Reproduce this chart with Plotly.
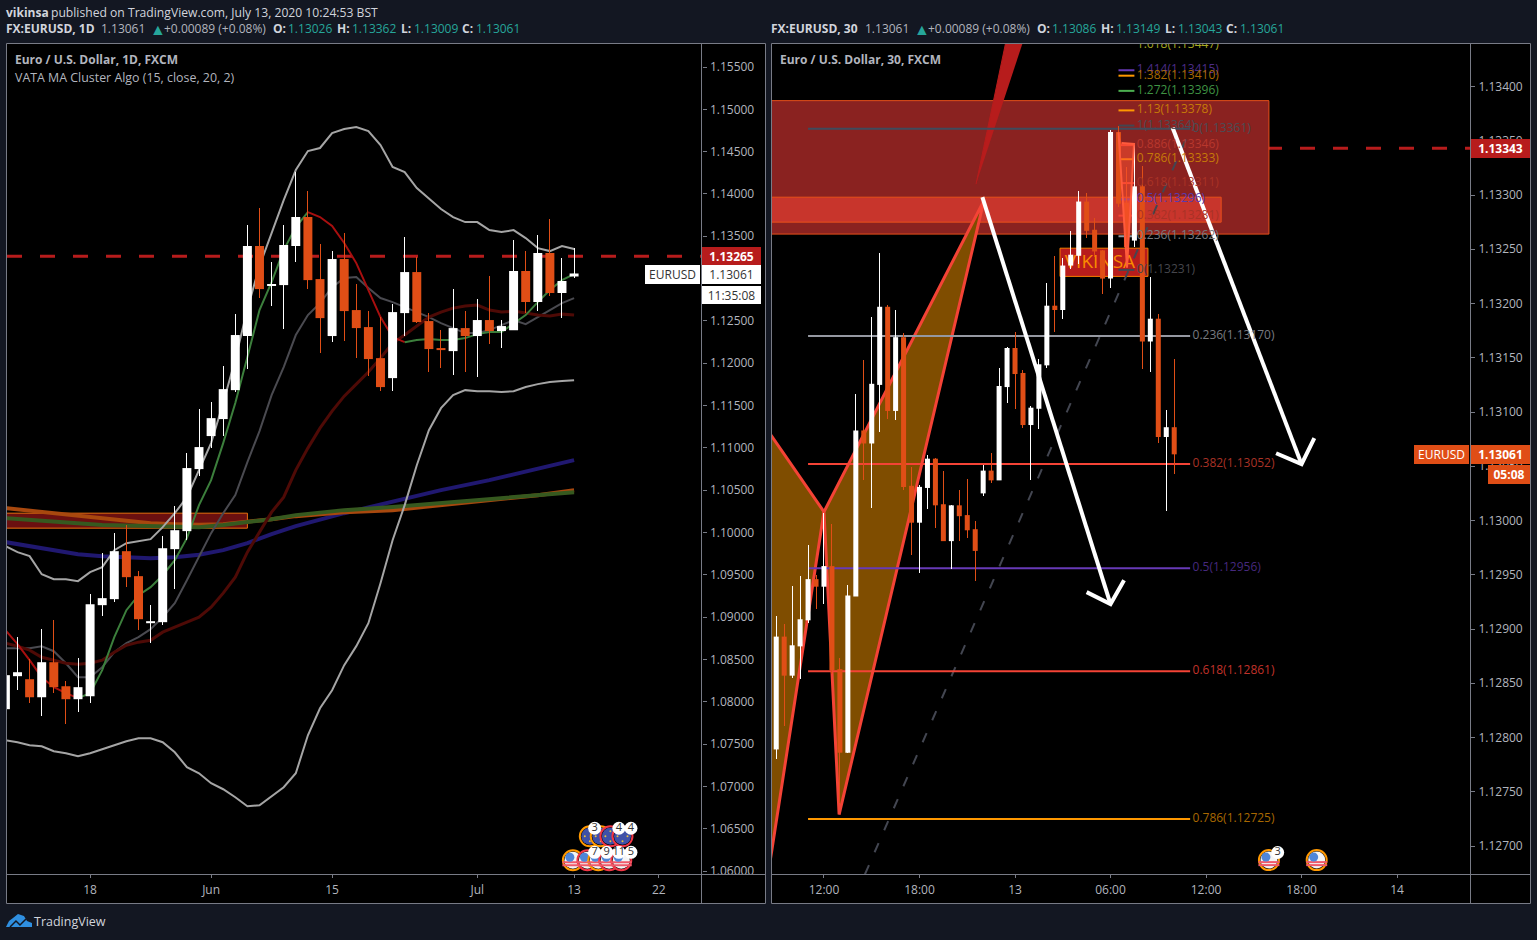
import plotly.graph_objects as go

W, H = 1537, 940
RENDER_H = 945
FONT = "Open Sans"
BG = "#131722"
UP = "#ffffff"
DOWN = "#e04e16"
AXIS = "#787b86"
TXT = "#b2b5be"

# ---------- daily panel ----------
day_open = [1.07912,1.08302,1.08266,1.08053,1.08467,1.08183,1.08030,1.08065,1.09141,1.09212,1.09779,1.09484,
            1.08928,1.08940,1.09803,1.10016,1.10749,1.11139,1.11340,1.11682,1.12321,1.13384,1.12923,1.12923,
            1.13384,1.13727,1.12994,1.12321,1.13231,1.12628,1.12427,1.12060,1.11824,1.12592,1.13077,1.12498,
            1.12179,1.12143,1.12415,1.12321,1.12510,1.12380,1.12391,1.13089,1.12722,1.13301,1.12829,1.13026]
day_high = [1.08314,1.08763,1.08503,1.08857,1.08964,1.08243,1.08514,1.09271,1.09756,1.09992,1.10087,1.09543,
            1.09141,1.09956,1.10311,1.10938,1.11458,1.11540,1.11966,1.12581,1.13632,1.13833,1.13195,1.13632,
            1.14259,1.14034,1.13408,1.13325,1.13538,1.12935,1.12616,1.12545,1.12699,1.13491,1.13254,1.12592,
            1.12391,1.12876,1.12616,1.12758,1.13030,1.12510,1.13455,1.13325,1.13514,1.13703,1.13242,1.13362]
day_low = [1.07912,1.08136,1.07982,1.07829,1.08101,1.07734,1.07876,1.07982,1.09011,1.09176,1.09354,1.08846,
           1.08692,1.08905,1.09330,1.09909,1.10666,1.10997,1.11139,1.11659,1.11931,1.12770,1.12675,1.12403,
           1.13195,1.12876,1.12119,1.12250,1.12261,1.12060,1.11847,1.11670,1.11670,1.12321,1.12474,1.11895,
           1.11942,1.11859,1.11895,1.11836,1.12226,1.12179,1.12391,1.12592,1.12616,1.12793,1.12533,1.13009]
day_close = [1.08314,1.08349,1.08053,1.08467,1.08172,1.08030,1.08172,1.09153,1.09224,1.09779,1.09472,1.08975,
             1.08952,1.09814,1.10027,1.10761,1.11009,1.11351,1.11694,1.12333,1.13384,1.12876,1.12935,1.13396,
             1.13727,1.12982,1.12533,1.13231,1.12616,1.12415,1.12049,1.11718,1.12604,1.13077,1.12486,1.12167,
             1.12155,1.12415,1.12321,1.12510,1.12380,1.12439,1.13089,1.12722,1.13301,1.12829,1.12971,1.13061]
day_idx = list(range(48))

band_upper = [1.09838,1.09767,1.0972,1.09507,1.09448,1.09448,1.09425,1.09531,1.0959,1.09791,1.09874,1.09897,
              1.09921,1.10063,1.10228,1.10417,1.10737,1.11056,1.11529,1.12048,1.1264,1.13148,1.13538,1.13928,
              1.14283,1.14507,1.14543,1.1472,1.14767,1.14791,1.14744,1.14578,1.14318,1.14259,1.1407,1.1394,
              1.13822,1.13727,1.13668,1.13668,1.13573,1.1355,1.13573,1.13479,1.1336,1.13325,1.13384,1.13349]
band_lower = [1.07545,1.07522,1.07486,1.07474,1.07415,1.07392,1.07356,1.07392,1.07439,1.07486,1.07533,1.07569,
              1.07569,1.07522,1.07403,1.07226,1.07155,1.07037,1.06966,1.06871,1.06765,1.06777,1.06883,1.0699,
              1.07155,1.07604,1.07923,1.08136,1.08432,1.08657,1.08928,1.09401,1.09909,1.10323,1.10795,1.11209,
              1.11469,1.11623,1.11682,1.1167,1.1167,1.11659,1.1167,1.11718,1.11753,1.11777,1.11789,1.118]
band_mid = [1.08633,1.08633,1.08633,1.08656,1.08597,1.08455,1.0829,1.0829,1.08408,1.08585,1.08692,1.08763,
            1.08857,1.08999,1.09165,1.09436,1.09708,1.09992,1.10228,1.10441,1.10831,1.11198,1.11623,1.11954,
            1.12333,1.12569,1.1271,1.12899,1.13006,1.13018,1.12888,1.1277,1.12722,1.12663,1.12604,1.12545,
            1.12474,1.12415,1.12356,1.12356,1.12391,1.1245,1.1251,1.12462,1.12545,1.12628,1.1271,1.1277]
ma_dark_red = [1.08692,1.08656,1.08609,1.08526,1.08491,1.08455,1.08443,1.08455,1.08491,1.08585,1.08668,1.08704,
               1.08727,1.08822,1.08881,1.0894,1.08999,1.09117,1.09283,1.09472,1.09767,1.10004,1.1024,1.10417,
               1.10737,1.10997,1.11233,1.11434,1.11611,1.11753,1.11895,1.1206,1.12238,1.12333,1.12439,1.12545,
               1.12604,1.12651,1.12675,1.12687,1.12628,1.12604,1.12616,1.12592,1.12569,1.12557,1.1258,1.12569]
ma_fast = [1.08846,1.0868,1.08491,1.0829,1.08172,1.08101,1.08042,1.08101,1.08373,1.08763,1.09082,1.09259,
           1.09354,1.09495,1.09673,1.09933,1.10323,1.10618,1.11056,1.11529,1.12072,1.12628,1.12959,1.13337,
           1.13609,1.13786,1.13727,1.13621,1.1342,1.13183,1.12864,1.12545,1.12309,1.12249,1.12273,1.12285,
           1.12273,1.12273,1.12297,1.12344,1.12368,1.12368,1.12474,1.12569,1.12722,1.12864,1.12982,1.13053]
ma_fast_segments = [(0,6,"#a80f0f"),(6,25,"#3c7f3c"),(25,33,"#a80f0f"),(33,47,"#3c7f3c")]

slow_idx = [0,2,4,6,8,10,12,14,16,18,20,22,24,28,32,36,40,44,47]
ma_blue = [1.09886,1.09838,1.09791,1.09744,1.0972,1.09708,1.09696,1.09708,1.09738,1.09791,1.09874,1.0998,
           1.10075,1.10228,1.1037,1.105,1.10618,1.10748,1.10855]
ma_orange = [1.10287,1.10258,1.10228,1.10193,1.10163,1.10134,1.1011,1.10098,1.10092,1.10098,1.10122,1.10157,
             1.10193,1.1024,1.10264,1.10323,1.10382,1.10441,1.105]
ma_green = [1.10169,1.10146,1.10122,1.1011,1.10087,1.10081,1.10075,1.10069,1.10063,1.10087,1.10122,1.10157,
            1.10205,1.10264,1.103,1.10347,1.10394,1.10441,1.10476]
day_yticks = [1.06,1.065,1.07,1.075,1.08,1.085,1.09,1.095,1.10,1.105,1.11,1.115,1.12,1.125,1.13,1.135,1.14,1.145,1.15,1.155]
day_xtick_idx = [7,17,27,39,47,54]
day_xtick_text = ["18","Jun","15","Jul","13","22"]
day_alert_price = 1.13265
day_zone = (0.0, 20.0, 1.10051, 1.10228)

# ---------- 30 min panel ----------
m30_idx = list(range(-6,45))
m30_open = [1.12789,1.12893,1.12857,1.12884,1.12908,1.12946,1.12939,1.12958,1.12863,1.12786,1.12930,1.13083,1.13071,
            1.13125,1.13197,1.13101,1.13169,1.13032,1.12998,1.13030,1.13057,1.13015,1.12981,1.13014,1.13005,1.12992,
            1.13025,1.13046,1.13037,1.13123,1.13159,1.13136,1.13088,1.13103,1.13143,1.13198,1.13194,1.13235,1.13244,
            1.13294,1.13268,1.13249,1.13223,1.13358,1.13293,1.13258,1.13308,1.13165,1.13186,1.13077,1.13086]
m30_high = [1.12912,1.12905,1.12940,1.12949,1.12977,1.12950,1.13007,1.12997,1.12873,1.12941,1.13117,1.13148,1.13188,
            1.13247,1.13199,1.13194,1.13173,1.13049,1.13033,1.13060,1.13058,1.13046,1.13014,1.13028,1.13038,1.13000,
            1.13051,1.13062,1.13141,1.13160,1.13174,1.13139,1.13106,1.13149,1.13219,1.13244,1.13242,1.13267,1.13304,
            1.13302,1.13279,1.13249,1.13360,1.13364,1.13326,1.13347,1.13327,1.13224,1.13190,1.13102,1.13149]
m30_low = [1.12780,1.12811,1.12855,1.12854,1.12906,1.12918,1.12923,1.12859,1.12740,1.12786,1.12930,1.13037,1.13012,
           1.13082,1.13094,1.13093,1.13028,1.12968,1.12952,1.13011,1.12993,1.12981,1.12955,1.12981,1.12984,1.12944,
           1.13023,1.13035,1.13037,1.13108,1.13103,1.13085,1.13037,1.13084,1.13141,1.13174,1.13186,1.13232,1.13236,
           1.13260,1.13243,1.13209,1.13214,1.13289,1.13249,1.13252,1.13140,1.13137,1.13071,1.13009,1.13043]
m30_close = [1.12893,1.12857,1.12885,1.12909,1.12946,1.12939,1.12958,1.12862,1.12786,1.12931,1.13083,1.13071,1.13126,
             1.13197,1.13101,1.13169,1.13031,1.12998,1.13031,1.13057,1.13014,1.12981,1.13014,1.13004,1.12991,1.12972,
             1.13046,1.13037,1.13124,1.13159,1.13135,1.13088,1.13104,1.13144,1.13198,1.13194,1.13235,1.13245,1.13294,
             1.13267,1.13248,1.13223,1.13358,1.13292,1.13252,1.13308,1.13165,1.13186,1.13077,1.13086,1.13061]
m30_yticks = [1.127,1.1275,1.128,1.1285,1.129,1.1295,1.13,1.1305,1.131,1.1315,1.132,1.1325,1.133,1.1335,1.134]
m30_xtick_idx = [0,12,24,36,48,60,72]
m30_xtick_text = ["12:00","18:00","13","06:00","12:00","18:00","14"]
m30_alert_price = 1.13343

fib_main_levels = [(0.0,1.13361,"#3f4b5c","#4a4d55"),(0.236,1.13170,"#9598a1","#787b80"),(0.382,1.13052,"#f44336","#a93226"),
                   (0.5,1.12956,"#673ab7","#46297e"),(0.618,1.12861,"#f44336","#c0322a"),(0.786,1.12725,"#ff9800","#a86800")]
fib_main_x = (-2.0, 46.0)
fib_small_levels = [("1.618",1.13447,"#a8a820","#a8a820"),("1.414",1.13415,"#673ab7","#4c2c88"),("1.382",1.13410,"#ff9800","#a86800"),
                    ("1.272",1.13396,"#4caf50","#3f9343"),("1.13",1.13378,"#ff9800","#c67a08"),("1",1.13364,"#434651","#4a4d55"),
                    ("0.886",1.13346,"#f44336","#b8372d"),("0.786",1.13333,"#ff9800","#c67a08"),("0.618",1.13311,"#f44336","#a93226"),
                    ("0.5",1.13296,"#673ab7","#5a3bb0"),("0.382",1.13281,"#f44336","#a93226"),("0.236",1.13262,"#9598a1","#787b80"),
                    ("0",1.13231,"#434651","#46464c")]
fib_small_x = (37.0, 39.0)
fib_label_ceiling = 1.13438
fib_trend_x = [5.15, 46.1]
fib_trend_y = [1.12674, 1.13362]
harm_left_x = [-8.0, 0.0, -8.0]
harm_left_y = [1.13093, 1.13008, 1.12627]
harm_mid_x = [0.0, 1.9, 20.1, 0.0]
harm_mid_y = [1.13008, 1.12729, 1.13295, 1.13008]
harm_top_x = [19.1, 23.1, 25.4]
harm_top_y = [1.13310, 1.13450, 1.13450]
harm_small_x = [37.0, 38.07, 38.95, 37.4]
harm_small_y = [1.13358, 1.13233, 1.13347, 1.13348]
arrow1_x = [19.9, 36.0]
arrow1_y = [1.13298, 1.12923]
arrow1_head_x = [33.0, 36.0, 37.7]
arrow1_head_y = [1.12934, 1.12923, 1.12945]
arrow2_x = [43.8, 60.0]
arrow2_y = [1.13362, 1.13052]
arrow2_head_x = [56.8, 60.0, 61.6]
arrow2_head_y = [1.13062, 1.13052, 1.13076]
zone_big = (-7.0, 55.9, 1.13264, 1.13387)
zone_small = (-7.0, 49.9, 1.13275, 1.13298)
brand_box = (29.65, 40.7, 1.13225, 1.13251)
brand_text = "VIKINSA"
brand_text_pos = (34.67, 1.13237)

# ---------- event markers: x index, price, flag, ring ----------
day_events = [(48.3,1.06410,"eu","#ff9800"),(49.2,1.06410,"eu","#ff9800"),(50.0,1.06410,"eu","#f23645"),(51.0,1.06410,"eu","#f23645"),
              (46.9,1.06127,"us","#ff9800"),(48.1,1.06127,"us","#f23645"),(49.0,1.06127,"us","#ff9800"),(49.9,1.06127,"us","#f23645"),(50.9,1.06127,"us","#f23645")]
day_badges = [(48.7,1.06505,"3"),(50.7,1.06505,"4"),(51.7,1.06505,"4"),(48.7,1.06221,"7"),(49.7,1.06221,"9"),(50.7,1.06221,"11"),(51.7,1.06221,"5")]
m30_events = [(55.9,1.12687,"us","#ff9800"),(61.9,1.12687,"us","#ff9800")]
m30_badges = [(57.0,1.12694,"3")]


def px(x): return x / W
def py(y): return 1 - y / H


fig = go.Figure()
day_ax = dict(xaxis="x", yaxis="y")
m30_ax = dict(xaxis="x2", yaxis="y2")


def line(x, y, color, width, axes, z=1, dash=None, **kw):
    fig.add_trace(go.Scatter(x=x, y=y, mode="lines", line=dict(color=color, width=width, dash=dash),
                             hoverinfo="skip", showlegend=False, zorder=z, **axes, **kw))


def poly(x, y, fill, color, width, axes, z=1):
    fig.add_trace(go.Scatter(x=x, y=y, mode="lines", fill="toself", fillcolor=fill,
                             line=dict(color=color, width=width), hoverinfo="skip", showlegend=False, zorder=z, **axes))


def candles(idx, o, h, l, c, axes, bw, tag):
    for name, test, col in (("up", lambda a, b: b >= a, UP), ("dn", lambda a, b: b < a, DOWN)):
        wx, wy = [], []
        for i, oo, hh, ll, cc in zip(idx, o, h, l, c):
            if test(oo, cc):
                wx += [i, i, None]
                wy += [ll, hh, None]
        fig.add_trace(go.Scatter(x=wx, y=wy, mode="lines", line=dict(color=col, width=1), hoverinfo="skip",
                                 showlegend=False, zorder=4, uid="wick" + tag + name, **axes))
    fig.add_trace(go.Bar(x=idx, y=[abs(b - a) for a, b in zip(o, c)], base=[min(a, b) for a, b in zip(o, c)],
                         width=bw, marker=dict(color=[UP if b >= a else DOWN for a, b in zip(o, c)], line=dict(width=0)),
                         hoverinfo="skip", showlegend=False, zorder=5, **axes))


def flag(x, y, kind, ring, axes, sx, sy):
    def mk(xs, ys, symbol, size, color, lw=0, lc=None):
        fig.add_trace(go.Scatter(x=xs, y=ys, mode="markers", cliponaxis=False, hoverinfo="skip", showlegend=False, zorder=8,
                                 marker=dict(symbol=symbol, size=size, color=color, line=dict(width=lw, color=lc or color)), **axes))
    if kind == "us":
        mk([x], [y], "circle", 20, "#000000", 2, ring)
        mk([x], [y], "circle", 17, "#f4f4f4")
        mk([x, x], [y - 2 * sy, y - 5 * sy], "line-ew", 15, "#f0596a", 2, "#f0596a")
        mk([x - 3 * sx], [y + 3 * sy], "circle", 9, "#4f86d8")
    else:
        mk([x], [y], "circle", 20, "#000000", 2, ring)
        mk([x], [y], "circle", 17, "#3f51a8")
        mk([x - 5 * sx, x + 5 * sx, x, x], [y, y, y + 5 * sy, y - 5 * sy], "circle", 2, "#e8c040")


def badge(x, y, t, axes):
    fig.add_trace(go.Scatter(x=[x], y=[y], mode="markers+text", text=[t], textposition="middle center", cliponaxis=False,
                             textfont=dict(family=FONT, size=11, color="#333333"), hoverinfo="skip", showlegend=False, zorder=9,
                             marker=dict(symbol="circle", size=13, color="#ffffff"), **axes))


# daily lines
line(slow_idx, ma_blue, "#201870", 4, day_ax)
line(slow_idx, ma_orange, "#a8480e", 4, day_ax)
line(slow_idx, ma_green, "#36591f", 4, day_ax)
line(day_idx, band_upper, "#a5a5a5", 2, day_ax, 2)
line(day_idx, band_lower, "#a5a5a5", 2, day_ax, 2)
line(day_idx, band_mid, "#4a4a50", 2, day_ax, 2)
line(day_idx, ma_dark_red, "#4e0a06", 3, day_ax, 2)
for a, b, col in ma_fast_segments:
    line(day_idx[a:b + 1], ma_fast[a:b + 1], col, 2, day_ax, 3)
candles(day_idx, day_open, day_high, day_low, day_close, day_ax, 0.74, "d")
for e in day_events:
    flag(*e, day_ax, 1 / 12.1, 1 / 8460)
for b in day_badges:
    badge(*b, day_ax)

# 30 min drawings
poly(harm_left_x, harm_left_y, "#7f4d00", "#f44336", 3, m30_ax)
poly(harm_mid_x, harm_mid_y, "#7f4d00", "#f44336", 3, m30_ax)
poly(harm_top_x, harm_top_y, "#b71c1c", "#b71c1c", 1, m30_ax)
line(fib_trend_x, fib_trend_y, "#434651", 2, m30_ax, 2, dash="10px,14px")
for lv, price, col, tc in fib_main_levels:
    line(list(fib_main_x), [price, price], col, 2, m30_ax, 2)
    fig.add_trace(go.Scatter(x=[fib_main_x[1] + 0.3], y=[price], mode="text", text=[f"{lv:g}({price:.5f})"],
                             textposition="middle right", textfont=dict(family=FONT, size=12, color=tc),
                             hoverinfo="skip", showlegend=False, zorder=7, **m30_ax))
for lv, price, col, tc in fib_small_levels:
    line(list(fib_small_x), [price, price], col, 2, m30_ax, 2)
    fig.add_trace(go.Scatter(x=[fib_small_x[1] + 0.3], y=[min(price, fib_label_ceiling)], mode="text", text=[f"{lv}({price:.5f})"],
                             textposition="middle right", textfont=dict(family=FONT, size=12, color=tc),
                             hoverinfo="skip", showlegend=False, zorder=7, **m30_ax))
fig.add_trace(go.Scatter(x=[brand_text_pos[0]], y=[brand_text_pos[1]], mode="text", text=[brand_text],
                         textfont=dict(family=FONT, size=19, color="#f98a00"), hoverinfo="skip", showlegend=False, zorder=3, **m30_ax))
candles(m30_idx, m30_open, m30_high, m30_low, m30_close, m30_ax, 0.63, "m")
poly(harm_small_x, harm_small_y, "rgba(255,80,50,0.55)", "#ff5a3c", 2, m30_ax, 6)
line(arrow1_x, arrow1_y, "#ffffff", 4, m30_ax, 6)
line(arrow1_head_x, arrow1_head_y, "#ffffff", 4, m30_ax, 6)
line(arrow2_x, arrow2_y, "#ffffff", 4, m30_ax, 6)
line(arrow2_head_x, arrow2_head_y, "#ffffff", 4, m30_ax, 6)
for e in m30_events:
    flag(*e, m30_ax, 1 / 7.96, 1 / 108500)
for b in m30_badges:
    badge(*b, m30_ax)

shapes = []
for x0, x1 in ((6.5, 765.5), (771.5, 1530.5)):
    shapes.append(dict(type="rect", xref="paper", yref="paper", x0=px(x0), x1=px(x1), y0=py(903.5), y1=py(43.5),
                       fillcolor="#000000", line=dict(color=AXIS, width=1), layer="below"))
shapes.append(dict(type="rect", xref="x", yref="y", x0=day_zone[0], x1=day_zone[1], y0=day_zone[2], y1=day_zone[3],
                   fillcolor="#6b1010", line=dict(color="#e8700f", width=1), layer="below"))
for z, col in ((zone_big, "#8a2220"), (zone_small, "#c8352c")):
    shapes.append(dict(type="rect", xref="x2", yref="y2", x0=z[0], x1=z[1], y0=z[2], y1=z[3],
                       fillcolor=col, line=dict(color="#e8501a", width=1), layer="below"))
shapes.append(dict(type="rect", xref="x2", yref="y2", x0=brand_box[0], x1=brand_box[1], y0=brand_box[2], y1=brand_box[3],
                   fillcolor="#b71c1c", line=dict(color="#f57c00", width=1), layer="below"))
shapes.append(dict(type="line", xref="paper", yref="y", x0=px(7), x1=px(701), y0=day_alert_price, y1=day_alert_price,
                   line=dict(color="#b71c1c", width=3, dash="15px,18px"), layer="below"))
shapes.append(dict(type="line", xref="paper", yref="y2", x0=px(772), x1=px(1470), y0=m30_alert_price, y1=m30_alert_price,
                   line=dict(color="#b71c1c", width=3, dash="15px,18px"), layer="below"))
# panel separators: price axis and time axis rules
for sx, x0, x1 in ((701.5, 6.5, 765.5), (1470.5, 771.5, 1530.5)):
    shapes.append(dict(type="line", xref="paper", yref="paper", x0=px(sx), x1=px(sx), y0=py(903.5), y1=py(43.5),
                       line=dict(color=AXIS, width=1), layer="above"))
    shapes.append(dict(type="line", xref="paper", yref="paper", x0=px(x0), x1=px(x1), y0=py(874.5), y1=py(874.5),
                       line=dict(color=AXIS, width=1), layer="above"))
# logo
logo = [(6,927),(9,921),(13,918),(18,914),(24,916),(27,921),(32,923),(32,927)]
shapes.append(dict(type="path", xref="paper", yref="paper", layer="above", fillcolor="#2f8fe0", line=dict(width=0),
                   path="M" + " L".join(f"{px(a):.5f},{py(b):.5f}" for a, b in logo) + " Z"))
logo2 = [(10,927),(16,921),(20,925),(26,919)]
shapes.append(dict(type="path", xref="paper", yref="paper", layer="above", line=dict(color=BG, width=1.5),
                   path="M" + " L".join(f"{px(a):.5f},{py(b):.5f}" for a, b in logo2)))

ann = []


def label(x, y, text, color=TXT, size=12, bold=False):
    ann.append(dict(xref="paper", yref="paper", x=px(x - 2), y=py(y), xanchor="left", yanchor="middle", showarrow=False,
                    text=f"<b>{text}</b>" if bold else text, font=dict(family=FONT, size=size, color=color), align="left"))


def tag(x0, x1, y0, y1, text, bg, fg, bold=False):
    ann.append(dict(xref="paper", yref="paper", x=px((x0 + x1) / 2), y=py((y0 + y1) / 2), xanchor="center", yanchor="middle",
                    showarrow=False, width=x1 - x0, height=y1 - y0, bgcolor=bg, borderpad=0, borderwidth=0, align="center",
                    text=f"<b>{text}</b>" if bold else text, font=dict(family=FONT, size=12, color=fg)))


TEAL = "#26a69a"
HDR = "#d1d4dc"
label(6, 12, "vikinsa", HDR, bold=True)
label(51, 12, "published on TradingView.com, July 13, 2020 10:24:53 BST", HDR, size=12.15)
OHLC_STEPS = ((0, 15), (64, 15), (128, 13), (189, 14))
for base, ttl, valsx, vals in ((6, "FX:EURUSD, 1D", (101, 150, 164), ("O:", "1.13026", "H:", "1.13362", "L:", "1.13009", "C:", "1.13061")),
                               (771, "FX:EURUSD, 30", (865, 914, 928), ("O:", "1.13086", "H:", "1.13149", "L:", "1.13043", "C:", "1.13061"))):
    label(base, 29, ttl, HDR, bold=True)
    label(valsx[0], 29, "1.13061", TXT)
    label(valsx[1], 29, "▲", TEAL, size=16)
    label(valsx[2], 29, "+0.00089 (+0.08%)", TXT)
    off = valsx[2] + 109
    for k, (d, v) in enumerate(OHLC_STEPS):
        label(off + d, 29, vals[2 * k], HDR, bold=True)
        label(off + d + v, 29, vals[2 * k + 1], TEAL)
label(15, 60, "Euro / U.S. Dollar, 1D, FXCM", TXT, bold=True)
label(15, 77, "VATA MA Cluster Algo (15, close, 20, 2)", TXT, size=12.4)
label(780, 60, "Euro / U.S. Dollar, 30, FXCM", TXT, bold=True)
label(34, 921, "TradingView", "#d1d4dc", size=12.5)

tag(702, 761, 247, 265, "1.13265", "#b71c1c", "#ffffff", True)
tag(702, 761, 265, 284, "1.13061", "#ffffff", "#333333")
tag(645, 700, 265, 284, "EURUSD", "#ffffff", "#333333")
tag(702, 761, 286, 304, "11:35:08", "#ffffff", "#333333")
tag(1471, 1530, 139, 158, "1.13343", "#b71c1c", "#ffffff", True)
tag(1414, 1469, 445, 464, "EURUSD", "#e04e16", "#ffffff")
tag(1471, 1530, 445, 464, "1.13061", "#e04e16", "#ffffff", True)
tag(1488, 1530, 465, 484, "05:08", "#e04e16", "#ffffff", True)


def yax(domain_anchor, rng, ticks):
    return dict(domain=[py(874), py(44)], range=rng, anchor=domain_anchor, side="right", tickvals=ticks, tickformat=".5f",
                ticks="outside", ticklen=4, tickcolor=AXIS, showline=False, showgrid=False, ticklabelstandoff=1,
                zeroline=False, tickfont=dict(family=FONT, size=12, color=TXT), fixedrange=True)


def xax(dom, anchor, rng, tv, tt):
    return dict(domain=[px(dom[0]), px(dom[1])], range=rng, anchor=anchor, tickvals=tv, ticktext=tt, ticks="outside", ticklen=3,
                tickcolor=AXIS, showline=False, showgrid=False, zeroline=False, ticklabelstandoff=2,
                tickfont=dict(family=FONT, size=12, color=TXT), fixedrange=True)


fig.update_layout(
    width=W, height=RENDER_H, autosize=False, margin=dict(l=0, r=0, t=0, b=0), paper_bgcolor=BG, plot_bgcolor="rgba(0,0,0,0)",
    showlegend=False, barmode="overlay", hovermode=False, shapes=shapes, annotations=ann,
    xaxis=xax((7, 701.5), "y", [0.132, 57.53], day_xtick_idx, day_xtick_text),
    yaxis=yax("x", [1.059645, 1.157719], day_yticks),
    xaxis2=xax((772, 1470), "y2", [-6.53, 81.16], m30_xtick_idx, m30_xtick_text),
    yaxis2=yax("x2", [1.126742, 1.134392], m30_yticks),
)

post = """
document.documentElement.style.margin='0';
document.body.style.margin='0';
document.body.style.background='#131722';
var s=document.createElement('style');
s.textContent='.tracewickdup path,.tracewickddn path,.tracewickmup path,.tracewickmdn path{shape-rendering:crispEdges}';
document.head.appendChild(s);
"""
fig.write_html("out.html", post_script=post, config={"displayModeBar": False})
